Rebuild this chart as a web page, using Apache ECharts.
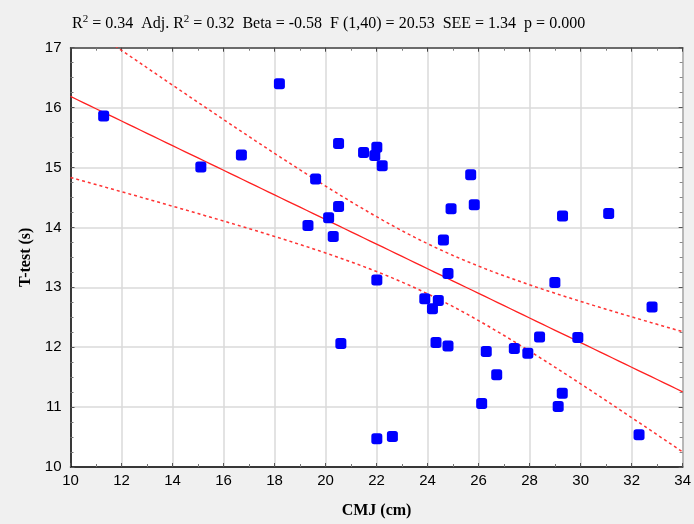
<!DOCTYPE html>
<html>
<head>
<meta charset="utf-8">
<script src="https://cdn.jsdelivr.net/npm/echarts@6/dist/echarts.min.js"></script>
<style>
html,body{margin:0;padding:0;background:#f0f0f0;}
#c{width:694px;height:524px;}
</style>
</head>
<body>
<div id="c"></div>
<script>
// CMJ (cm) values
var cmj = [11.30,15.11,16.70,18.19,20.51,21.49,19.61,20.51,20.12,19.31,20.30,22.01,21.93,22.22,25.69,24.92,25.83,29.29,31.10,24.62,24.80,20.60,22.01,28.99,32.80,23.89,24.42,24.19,28.39,29.89,24.33,24.80,26.30,27.40,27.93,26.71,29.28,29.12,26.12,32.29,22.01,22.62];
// T-test (s) values
var ttest = [15.86,15.01,15.21,16.40,15.40,15.25,14.81,14.35,14.16,14.03,13.85,15.34,15.20,15.03,14.88,14.31,14.38,14.19,14.23,13.79,13.23,12.06,13.12,13.08,12.67,12.81,12.78,12.64,12.17,12.16,12.08,12.02,11.93,11.98,11.90,11.54,11.23,11.01,11.06,10.54,10.47,10.51];
var xTicks = [10,12,14,16,18,20,22,24,26,28,30,32,34];
var yTicks = [10,11,12,13,14,15,16,17];

// least squares fit and 95% confidence band, derived from the data
var n = cmj.length, mx = 0, my = 0;
for (var i = 0; i < n; i++) { mx += cmj[i]; my += ttest[i]; }
mx /= n; my /= n;
var sxx = 0, sxy = 0;
for (var i = 0; i < n; i++) { sxx += (cmj[i]-mx)*(cmj[i]-mx); sxy += (cmj[i]-mx)*(ttest[i]-my); }
var b = sxy / sxx, a = my - b * mx;
var sse = 0;
for (var i = 0; i < n; i++) { var r = ttest[i] - (a + b*cmj[i]); sse += r*r; }
var see = Math.sqrt(sse / (n - 2));
var tcrit = 2.021;
var fit = [], up = [], lo = [];
var x0 = xTicks[0], x1 = xTicks[xTicks.length-1];
for (var k = 0; k <= 96; k++) {
  var x = x0 + (x1 - x0) * k / 96;
  var yh = a + b * x;
  var h = tcrit * see * Math.sqrt(1/n + (x-mx)*(x-mx)/sxx);
  fit.push([x, yh]); up.push([x, yh + h]); lo.push([x, yh - h]);
}
var pts = cmj.map(function(v, i){ return [v, ttest[i]]; });

var chart = echarts.init(document.getElementById('c'));
var axisFont = {fontFamily:'Liberation Sans, Arial, sans-serif', fontSize:15, color:'#000'};
chart.setOption({
  backgroundColor:'#f0f0f0',
  animation:false,
  title:{
    left:67, top:9,
    text:'R{s|2} = 0.34  Adj. R{s|2} = 0.32  Beta = -0.58  F (1,40) = 20.53  SEE = 1.34  p = 0.000',
    textStyle:{fontFamily:'Liberation Serif, Times New Roman, serif', fontSize:16, fontWeight:'normal', color:'#000',
      rich:{s:{fontFamily:'Liberation Serif, serif', fontSize:11, verticalAlign:'top', padding:[0,0,8,0], color:'#000'}}}
  },
  grid:{left:70.5, right:0, top:47.7, bottom:56.3, show:true, backgroundColor:'#fff', borderWidth:0},
  xAxis:[{
    type:'value', min:10, max:34, interval:2, position:'bottom',
    name:'CMJ (cm)', nameLocation:'middle', nameGap:36,
    nameTextStyle:{fontFamily:'Liberation Serif, serif', fontSize:16, fontWeight:'bold', color:'#000'},
    axisLine:{lineStyle:{color:'#000', width:1.5}},
    axisTick:{inside:true, length:4, lineStyle:{color:'#555'}},
    minorTick:{show:true, splitNumber:2, length:3, lineStyle:{color:'#777'}},
    axisLabel:Object.assign({margin:6, showMaxLabel:true}, axisFont),
    splitLine:{lineStyle:{color:'#dadada', width:1.5}}
  },{
    type:'value', min:10, max:34, interval:2, position:'top',
    axisLine:{lineStyle:{color:'#444', width:1.5}},
    axisTick:{inside:true, length:4, lineStyle:{color:'#444'}},
    minorTick:{show:true, splitNumber:2, length:3, lineStyle:{color:'#777'}},
    axisLabel:{show:false}, splitLine:{show:false}
  }],
  yAxis:[{
    type:'value', min:10, max:17, interval:1, position:'left',
    name:'T-test (s)', nameLocation:'middle', nameGap:35,
    nameTextStyle:{fontFamily:'Liberation Serif, serif', fontSize:16, fontWeight:'bold', color:'#000'},
    axisLine:{show:true, lineStyle:{color:'#000', width:1.5}},
    axisTick:{show:true, inside:true, length:4, lineStyle:{color:'#555'}},
    minorTick:{show:true, splitNumber:4, length:3, lineStyle:{color:'#777'}},
    axisLabel:Object.assign({margin:9}, axisFont),
    splitLine:{lineStyle:{color:'#dadada', width:1.5}}
  },{
    type:'value', min:10, max:17, interval:1, position:'right',
    axisLine:{show:true, lineStyle:{color:'#aaa', width:1.5}},
    axisTick:{show:true, inside:true, length:4, lineStyle:{color:'#555'}},
    minorTick:{show:true, splitNumber:4, length:3, lineStyle:{color:'#888'}},
    axisLabel:{show:false}, splitLine:{show:false}
  }],
  series:[
    {type:'line', data:up, showSymbol:false, symbol:'none', silent:true, clip:true,
      lineStyle:{color:'#ff3333', width:1.5, type:[3,3]}},
    {type:'line', data:lo, showSymbol:false, symbol:'none', silent:true, clip:true,
      lineStyle:{color:'#ff3333', width:1.5, type:[3,3]}},
    {type:'line', data:fit, showSymbol:false, symbol:'none', silent:true, clip:true,
      lineStyle:{color:'#ff2020', width:1.3}},
    {type:'scatter', data:pts, symbol:'roundRect', symbolSize:11,
      itemStyle:{color:'#0000ff', opacity:1}, z:5}
  ]
});
</script>
</body>
</html>
